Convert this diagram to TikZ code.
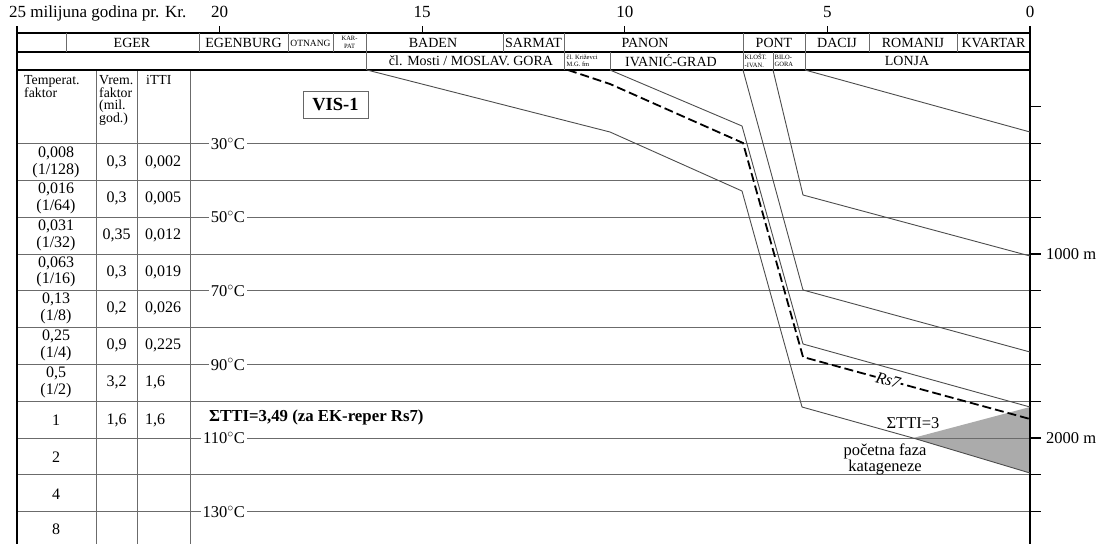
\documentclass[tikz,border=0pt]{standalone}
\usepackage{fontspec}
\setmainfont{Liberation Serif}
\usepackage{tikz}
\usetikzlibrary{positioning}
\tikzset{
    border/.style={draw=black, line width=1.6pt},
    headline/.style={draw=black, line width=1.1pt},
    gridline/.style={draw=black!58, line width=0.9pt},
    burial/.style={draw=black!70, line width=0.9pt},
    reper/.style={draw=black, line width=1.8pt, dash pattern=on 9pt off 4pt},
    axisnum/.style={font=\fontsize{17}{17}\selectfont, inner sep=0pt, anchor=base},
    hdr/.style={font=\fontsize{14}{14}\selectfont, inner sep=0pt},
    tinyhdr/.style={font=\fontsize{6.5}{7.5}\selectfont, inner sep=0pt, align=left},
    colhead/.style={font=\fontsize{13.8}{12.8}\selectfont, inner sep=0pt, align=left, anchor=north west},
    val/.style={font=\fontsize{16}{16.5}\selectfont, inner sep=0pt, align=center},
    temp/.style={font=\fontsize{16.5}{16}\selectfont, fill=white, inner sep=2pt, anchor=east},
    note/.style={font=\fontsize{16.5}{16}\selectfont, inner sep=0pt, align=center},
}

\begin{document}
\begin{tikzpicture}[x=1pt, y=-1pt]
	\useasboundingbox (0,0) rectangle (1105,544);
	% time axis
	\node[axisnum, anchor=base west] (t25) at (9,17) {25 milijuna godina pr. Kr.};
	\foreach \t/\x in {20/219.6, 15/422.2, 10/624.8, 5/827.4, 0/1030} {
		\node[axisnum] (t\t) at (\x,17) {\t};
		\draw[line width=1.2pt] (\x,26) -- (\x,33);
	}
	% gray zone
	\coordinate (g1) at (913,438);
	\coordinate (g2) at (1030,407);
	\coordinate (g3) at (1030,473);
	\fill[black!33] (g1) -- (g2) -- (g3) -- cycle;
	% depth grid
	\foreach \k in {2,...,12}
		\draw[gridline] (17,70+36.8*\k) -- (1030,70+36.8*\k);
	\foreach \k in {1,...,12}
		\draw[line width=1.2pt] (1030,70+36.8*\k) -- (1041,70+36.8*\k);
	% table columns
	\foreach \x in {96,137,190}
		\draw[gridline] (\x,70) -- (\x,544);
	% header
	\draw[headline] (17,33) -- (1030,33);
	\draw[headline] (17,52) -- (1030,52);
	\draw[border] (17,70) -- (1030,70);
	\foreach \x in {66,199,288,333,366,503,564,743,805,869,957}
		\draw[gridline] (\x,33) -- (\x,52);
	\foreach \x in {366,564,610,743,773,805}
		\draw[gridline] (\x,52) -- (\x,70);
	\draw[border] (17,26) -- (17,544);
	\draw[border] (1030,26) -- (1030,544);
	\node[hdr] (eger) at (132,43) {EGER};
	\node[hdr] (egenburg) at (243.5,43) {EGENBURG};
	\node[hdr, font=\fontsize{9.5}{9.5}\selectfont] (otnang) at (310.5,43.5) {OTNANG};
	\node[tinyhdr, align=center] (karpat) at (349.5,42.5) {KAR-\\PAT};
	\node[hdr] (baden) at (433,43) {BADEN};
	\node[hdr] (sarmat) at (533.5,43) {SARMAT};
	\node[hdr] (panon) at (645,43) {PANON};
	\node[hdr] (pont) at (774,43) {PONT};
	\node[hdr] (dacij) at (837,43) {DACIJ};
	\node[hdr] (romanij) at (913,43) {ROMANIJ};
	\node[hdr] (kvartar) at (993.5,43) {KVARTAR};
	\node[hdr] (mosti) at (471,61) {čl. Mosti / MOSLAV. GORA};
	\node[tinyhdr, anchor=west] (krizevci) at (566.5,61) {čl. Križevci\\M.G. fm};
	\node[hdr] (ivanic) at (671,61) {IVANIĆ-GRAD};
	\node[tinyhdr, anchor=west] (klostar) at (744.5,61) {KLOŠT.\\-IVAN.};
	\node[tinyhdr, anchor=west] (bilogora) at (774.5,61) {BILO-\\GORA};
	\node[hdr] (lonja) at (907,61) {LONJA};
	% table
	\node[colhead] (ctemp) at (24,75) {Temperat.\\faktor};
	\node[colhead] (cvrem) at (99,75) {Vrem.\\faktor\\(mil.\\god.)};
	\node[colhead] (citti) at (146,75) {iTTI};
	\foreach \n/\y/\f/\v/\i in {1/162.5/{0,008\\(1/128)}/{0,3}/{0,002},
		2/198.5/{0,016\\(1/64)}/{0,3}/{0,005},
		3/235.5/{0,031\\(1/32)}/{0,35}/{0,012},
		4/272/{0,063\\(1/16)}/{0,3}/{0,019},
		5/308.5/{0,13\\(1/8)}/{0,2}/{0,026},
		6/345.5/{0,25\\(1/4)}/{0,9}/{0,225},
		7/382.5/{0,5\\(1/2)}/{3,2}/{1,6},
		8/420/{1}/{1,6}/{1,6},
		9/457/{2}/{}/{},
		10/494/{4}/{}/{},
		11/529/{8}/{}/{}} {
		\node[val] (f\n) at (56,\y) {\f};
		\node[val] (v\n) at (116.5,\y) {\v};
		\node[val, anchor=west] (i\n) at (145,\y) {\i};
	}
	% temperatures
	\foreach \c/\k in {30/2, 50/4, 70/6, 90/8, 110/10, 130/12}
		\node[temp] (temp\c) at (247,70+36.8*\k) {\c$^{\circ}$C};
	% burial curves
	\draw[burial] (805,70) -- (1030,132);
	\draw[burial] (773,70) -- (803,195) -- (1030,256);
	\draw[burial] (743,70) -- (803,290) -- (1030,352);
	\draw[burial] (610,70) -- (742,126) -- (803,344) -- (g2);
	\draw[burial] (367,70) -- (610,132) -- (742,191) -- (802,407) -- (g1) -- (g3);
	\draw[reper] (568,70) -- (610,84) -- (743,143) -- (803,357)
		-- node[pos=0.375, sloped, fill=white, inner sep=0.5pt, font=\fontsize{16.5}{16.5}\itshape] (rs7) {Rs7} (1030,419);
	% labels
	\node[draw=black!60, line width=1pt, minimum width=65pt, minimum height=27pt, inner sep=0pt,
		font=\fontsize{18.5}{18.5}\bfseries] (vis) at (335.5,104.5) {VIS-1};
	\node[note, anchor=west, font=\fontsize{16.8}{16}\bfseries] (sumtti) at (209,417) {ΣTTI=3,49 (za EK-reper Rs7)};
	\node[note] (tti3) at (913,423) {ΣTTI=3};
	\node[note] (faza) at (885,459) {početna faza\\katageneze};
	\node[note, anchor=west] (d1000) at (1046,254) {1000 m};
	\node[note, anchor=west] (d2000) at (1046,438) {2000 m};
\end{tikzpicture}
\end{document}
